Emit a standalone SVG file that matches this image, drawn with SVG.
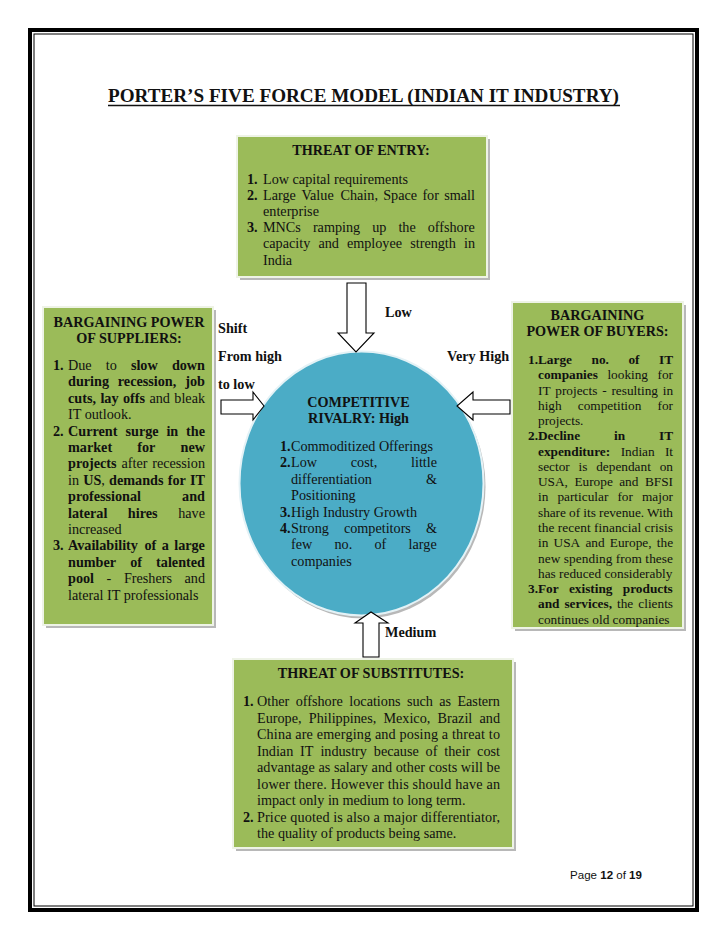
<svg xmlns="http://www.w3.org/2000/svg" width="728" height="943" viewBox="0 0 728 943">
<style>
.f{font-family:"Liberation Serif","Times New Roman",serif;fill:#111}
.n{font-size:14.2px}
.r{font-size:13.3px}
.b{font-weight:bold}
.box{fill:#9BBB59;stroke:#eef3e6;stroke-width:2}
.shadow{fill:#b8b8b8}
.arrow{fill:#fff;stroke:#000;stroke-width:1.1}
.lbl{font-family:"Liberation Serif","Times New Roman",serif;font-size:14.2px;font-weight:bold;fill:#111}
</style>
<rect width="728" height="943" fill="#fff"/>
<g id="page-border">
<rect x="30" y="30" width="667" height="880" fill="none" stroke="#000" stroke-width="4"/>
<rect x="34" y="34" width="659" height="872" fill="none" stroke="#000" stroke-width="1"/>
</g>
<g id="title">
<text x="108" y="102" class="f b" font-size="19" textLength="511" lengthAdjust="spacingAndGlyphs">PORTER’S FIVE FORCE MODEL (INDIAN IT INDUSTRY)</text>
<line x1="108" y1="105.5" x2="620" y2="105.5" stroke="#111" stroke-width="1.3"/>
</g>

<g id="node-threat-of-entry">
<rect x="240" y="139" width="250" height="141" class="shadow"/>
<rect x="237" y="136" width="250" height="141" class="box"/>
<text x="361" y="155" text-anchor="middle" class="f n b">THREAT OF ENTRY:</text>
<text y="183.5" class="f n"><tspan x="247" class="b">1.</tspan><tspan x="263">Low capital requirements</tspan></text>
<text y="199.7" class="f n"><tspan x="247" class="b">2.</tspan><tspan x="263">Large</tspan><tspan x="301.4">Value</tspan><tspan x="340.5">Chain,</tspan><tspan x="383.2">Space</tspan><tspan x="422.4">for</tspan><tspan x="444.2">small</tspan></text>
<text y="215.9" class="f n"><tspan x="263">enterprise</tspan></text>
<text y="232.1" class="f n"><tspan x="247" class="b">3.</tspan><tspan x="263">MNCs</tspan><tspan x="312.9">ramping</tspan><tspan x="372.2">up</tspan><tspan x="398.4">the</tspan><tspan x="427.7">offshore</tspan></text>
<text y="248.3" class="f n"><tspan x="263">capacity</tspan><tspan x="318.4">and</tspan><tspan x="346.9">employee</tspan><tspan x="410.2">strength</tspan><tspan x="464">in</tspan></text>
<text y="264.5" class="f n"><tspan x="263">India</tspan></text>
</g>

<g id="node-bargaining-power-of-suppliers">
<rect x="46" y="310" width="170" height="318" class="shadow"/>
<rect x="43" y="307" width="170" height="318" class="box"/>
<text x="129" y="327" text-anchor="middle" class="f n b">BARGAINING POWER</text>
<text x="129" y="342.6" text-anchor="middle" class="f n b">OF SUPPLIERS:</text>
<text y="370" class="f n"><tspan x="53" class="b">1.</tspan><tspan x="68">Due</tspan><tspan x="105.8">to</tspan><tspan x="130.9" class="b">slow</tspan><tspan x="171.9" class="b">down</tspan></text>
<text y="386.4" class="f n b"><tspan x="68">during</tspan><tspan x="117.8">recession,</tspan><tspan x="185.3">job</tspan></text>
<text y="402.8" class="f n"><tspan x="68" class="b">cuts,</tspan><tspan x="100.4" class="b">lay</tspan><tspan x="122.9" class="b">offs</tspan><tspan x="149.4">and</tspan><tspan x="174.3">bleak</tspan></text>
<text y="419.2" class="f n"><tspan x="68">IT outlook.</tspan></text>
<text y="435.6" class="f n b"><tspan x="53">2.</tspan><tspan x="68">Current</tspan><tspan x="125.5">surge</tspan><tspan x="166.4">in</tspan><tspan x="186.1">the</tspan></text>
<text y="452" class="f n b"><tspan x="68">market</tspan><tspan x="137.3">for</tspan><tspan x="180.6">new</tspan></text>
<text y="468.4" class="f n"><tspan x="68" class="b">projects</tspan><tspan x="121.5">after</tspan><tspan x="152.2">recession</tspan></text>
<text y="484.8" class="f n"><tspan x="68">in</tspan><tspan x="83.2"><tspan class="b">US</tspan>,</tspan><tspan x="109.1" class="b">demands</tspan><tspan x="167.7" class="b">for</tspan><tspan x="190" class="b">IT</tspan></text>
<text y="501.2" class="f n b"><tspan x="68">professional</tspan><tspan x="182.1">and</tspan></text>
<text y="517.6" class="f n"><tspan x="68" class="b">lateral</tspan><tspan x="127.8" class="b">hires</tspan><tspan x="178.2">have</tspan></text>
<text y="534" class="f n"><tspan x="68">increased</tspan></text>
<text y="550.4" class="f n b"><tspan x="53">3.</tspan><tspan x="68">Availability</tspan><tspan x="144.4">of</tspan><tspan x="161.7">a</tspan><tspan x="174.2">large</tspan></text>
<text y="566.8" class="f n b"><tspan x="68">number</tspan><tspan x="130.2">of</tspan><tspan x="156.1">talented</tspan></text>
<text y="583.2" class="f n"><tspan x="68" class="b">pool</tspan><tspan x="106.6">-</tspan><tspan x="123.9">Freshers</tspan><tspan x="184.5">and</tspan></text>
<text y="599.6" class="f n"><tspan x="68">lateral IT professionals</tspan></text>
</g>

<g id="node-bargaining-power-of-buyers">
<rect x="515" y="305" width="171" height="326" class="shadow"/>
<rect x="512" y="302" width="171" height="326" class="box"/>
<text x="597.5" y="320" text-anchor="middle" class="f n b">BARGAINING</text>
<text x="597.5" y="336" text-anchor="middle" class="f n b">POWER OF BUYERS:</text>
<text y="364" class="f r b"><tspan x="528">1.</tspan><tspan x="538">Large</tspan><tspan x="591.5">no.</tspan><tspan x="628.4">of</tspan><tspan x="659">IT</tspan></text>
<text y="379.3" class="f r"><tspan x="538" class="b">companies</tspan><tspan x="607.4">looking</tspan><tspan x="657.5">for</tspan></text>
<text y="394.5" class="f r"><tspan x="538">IT</tspan><tspan x="555.3">projects</tspan><tspan x="602.2">-</tspan><tspan x="611.4">resulting</tspan><tspan x="662.7">in</tspan></text>
<text y="409.8" class="f r"><tspan x="538">high</tspan><tspan x="577.8">competition</tspan><tspan x="657.5">for</tspan></text>
<text y="425.1" class="f r"><tspan x="538">projects.</tspan></text>
<text y="440.4" class="f r b"><tspan x="528">2.</tspan><tspan x="538">Decline</tspan><tspan x="614">in</tspan><tspan x="659">IT</tspan></text>
<text y="455.6" class="f r"><tspan x="538" class="b">expenditure:</tspan><tspan x="620.7">Indian</tspan><tspan x="664.9">It</tspan></text>
<text y="470.9" class="f r"><tspan x="538">sector</tspan><tspan x="578.6">is</tspan><tspan x="596.2">dependant</tspan><tspan x="659.7">on</tspan></text>
<text y="486.2" class="f r"><tspan x="538">USA,</tspan><tspan x="574.4">Europe</tspan><tspan x="619.2">and</tspan><tspan x="644.9">BFSI</tspan></text>
<text y="501.4" class="f r"><tspan x="538">in</tspan><tspan x="557.4">particular</tspan><tspan x="617.4">for</tspan><tspan x="642">major</tspan></text>
<text x="538" y="516.7" class="f r" textLength="135" lengthAdjust="spacing">share of its revenue. With</text>
<text x="538" y="532" class="f r" textLength="135" lengthAdjust="spacing">the recent financial crisis</text>
<text y="547.2" class="f r"><tspan x="538">in</tspan><tspan x="553.6">USA</tspan><tspan x="585.4">and</tspan><tspan x="609.8">Europe,</tspan><tspan x="656.8">the</tspan></text>
<text x="538" y="562.5" class="f r" textLength="135" lengthAdjust="spacing">new spending from these</text>
<text x="538" y="577.8" class="f r">has reduced considerably</text>
<text y="593.1" class="f r b"><tspan x="528">3.</tspan><tspan x="538">For</tspan><tspan x="568.9">existing</tspan><tspan x="622.8">products</tspan></text>
<text y="608.3" class="f r"><tspan x="538" class="b">and</tspan><tspan x="564.4" class="b">services,</tspan><tspan x="617">the</tspan><tspan x="638.3">clients</tspan></text>
<text x="538" y="623.6" class="f r">continues old companies</text>
</g>

<g id="node-competitive-rivalry">
<ellipse cx="363.5" cy="486.5" rx="122" ry="132" class="shadow"/>
<ellipse cx="361.5" cy="483.5" rx="122" ry="132" fill="#4BACC6" stroke="#e4f2f6" stroke-width="2"/>
<text x="358.5" y="407" text-anchor="middle" class="f n b">COMPETITIVE</text>
<text x="358.5" y="423" text-anchor="middle" class="f n b">RIVALRY: High</text>
<text y="451" class="f n"><tspan x="280" class="b">1.</tspan><tspan x="291">Commoditized Offerings</tspan></text>
<text y="467.4" class="f n"><tspan x="280" class="b">2.</tspan><tspan x="291">Low</tspan><tspan x="350.8">cost,</tspan><tspan x="411">little</tspan></text>
<text y="483.8" class="f n"><tspan x="291">differentiation</tspan><tspan x="426">&amp;</tspan></text>
<text y="500.2" class="f n"><tspan x="291">Positioning</tspan></text>
<text y="516.6" class="f n"><tspan x="280" class="b">3.</tspan><tspan x="291">High Industry Growth</tspan></text>
<text y="533" class="f n"><tspan x="280" class="b">4.</tspan><tspan x="291">Strong</tspan><tspan x="343.9">competitors</tspan><tspan x="426">&amp;</tspan></text>
<text y="549.4" class="f n"><tspan x="291">few</tspan><tspan x="334.5">no.</tspan><tspan x="374.5">of</tspan><tspan x="408.6">large</tspan></text>
<text y="565.8" class="f n"><tspan x="291">companies</tspan></text>
</g>

<g id="node-threat-of-substitutes">
<rect x="236" y="662" width="280" height="189" class="shadow"/>
<rect x="233" y="659" width="280" height="189" class="box"/>
<text x="371" y="678" text-anchor="middle" class="f n b">THREAT OF SUBSTITUTES:</text>
<text y="706" class="f n"><tspan x="243" class="b">1.</tspan><tspan x="257">Other</tspan><tspan x="295.7">offshore</tspan><tspan x="349.3">locations</tspan><tspan x="406.9">such</tspan><tspan x="439.3">as</tspan><tspan x="457.4">Eastern</tspan></text>
<text y="722.5" class="f n"><tspan x="257">Europe,</tspan><tspan x="308.8">Philippines,</tspan><tspan x="383.4">Mexico,</tspan><tspan x="437.6">Brazil</tspan><tspan x="479.5">and</tspan></text>
<text x="257" y="739" class="f n" textLength="243" lengthAdjust="spacing">China are emerging and posing a threat to</text>
<text y="755.5" class="f n"><tspan x="257">Indian</tspan><tspan x="300.1">IT</tspan><tspan x="320.4">industry</tspan><tspan x="373.8">because</tspan><tspan x="425.6">of</tspan><tspan x="444.3">their</tspan><tspan x="477.1">cost</tspan></text>
<text x="257" y="772" class="f n" textLength="243" lengthAdjust="spacing">advantage as salary and other costs will be</text>
<text x="257" y="788.5" class="f n" textLength="243" lengthAdjust="spacing">lower there. However this should have an</text>
<text x="257" y="805" class="f n">impact only in medium to long term.</text>
<text y="821.5" class="f n"><tspan x="243" class="b">2.</tspan><tspan x="257" textLength="243" lengthAdjust="spacing">Price quoted is also a major differentiator,</tspan></text>
<text x="257" y="838" class="f n">the quality of products being same.</text>
</g>

<g id="connectors">
<polygon class="arrow" points="347,283 366,283 366,333 374,333 356,352 338,333 347,333"/>
<polygon class="arrow" points="221,400 253,400 253,392 264,406 253,420 253,414 221,414"/>
<polygon class="arrow" points="510,400 473,400 473,392 457,406 473,420 473,414 510,414"/>
<polygon class="arrow" points="363,657 379,657 379,623 388,623 371,612 355,623 363,623"/>
</g>

<g id="connector-labels">
<text x="385" y="317" class="lbl">Low</text>
<text x="218" y="333" class="lbl">Shift</text>
<text x="218" y="361" class="lbl">From high</text>
<text x="218" y="389" class="lbl">to low</text>
<text x="447" y="361" class="lbl">Very High</text>
<text x="385" y="637" class="lbl">Medium</text>
</g>

<g id="footer">
<text x="570" y="879" font-family="'Liberation Sans','Open Sans',sans-serif" font-size="11.5" fill="#111" textLength="72" lengthAdjust="spacingAndGlyphs">Page <tspan font-weight="bold">12</tspan> of <tspan font-weight="bold">19</tspan></text>
</g>
</svg>
